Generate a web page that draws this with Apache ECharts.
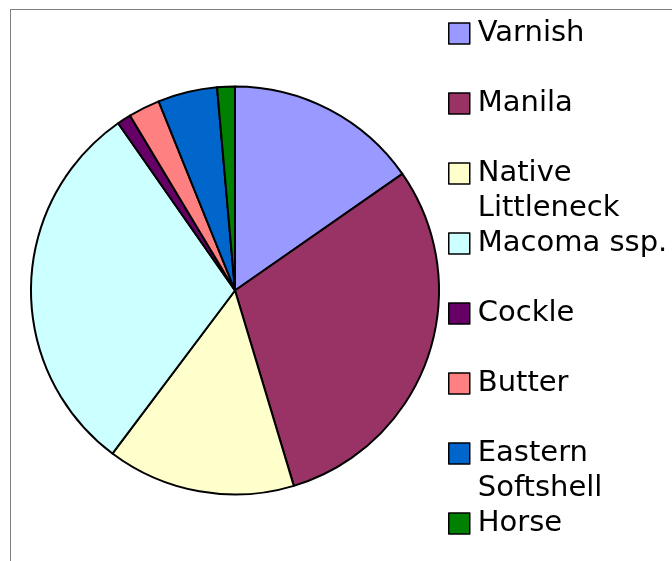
<!DOCTYPE html>
<html>
<head>
<meta charset="UTF-8">
<title>index.html</title>
<style type="text/css">
html, body { margin: 0; padding: 0; background: #fff; }
#main { width: 672px; height: 561px; }
#frame {
  position: absolute; left: 10px; top: 9px; width: 662px; height: 552px;
  border-left: 1px solid #808080; border-top: 1px solid #808080;
  pointer-events: none;
}
</style>
</head>
<body>
  <div id="main"></div>
  <div id="frame"></div>
</body>
<script type="text/javascript" src="https://cdn.jsdelivr.net/npm/echarts@6/dist/echarts.min.js"></script>
<script>
  // clam species, share of the pie (in %)
  var names = [ 'Varnish', 'Manila', 'Native\nLittleneck', 'Macoma ssp.', 'Cockle', 'Butter', 'Eastern\nSoftshell', 'Horse' ];
  var values = [ 15.3, 30.0, 14.9, 30.0, 1.1, 2.5, 4.7, 1.4 ];
  var colors = [ '#9999FF', '#993366', '#FFFFCC', '#CCFFFF', '#660066', '#FF8080', '#0066CC', '#008000' ];

  var myChart = echarts.init(document.getElementById('main'));

  // one legend per item so every entry sits on a 70px slot
  var legends = names.map(function(n, i) {
    var twoLines = n.indexOf('\n') >= 0;
    return {
      orient : 'vertical',
      left : 448,
      top : 16 + 70 * i - (twoLines ? 35 : 0),
      padding : 0,
      itemWidth : 21,
      itemHeight : 21,
      icon : 'rect',
      selectedMode : false,
      data : [ n ],
      // blank first line keeps the first word level with the swatch
      formatter : function(name) {
        return name.indexOf('\n') >= 0 ? ' \n' + name : name;
      },
      itemStyle : { borderColor : '#000', borderWidth : 1.5 },
      textStyle : {
        fontFamily : 'DejaVu Sans',
        fontSize : 29,
        color : '#000',
        lineHeight : 35,
        padding : [ 0, 0, 0, 3 ]
      }
    };
  });

  var option = {
    animation : false,
    color : colors,
    legend : legends,
    series : [ {
      type : 'pie',
      center : [ 235, 290.5 ],
      radius : 204,
      startAngle : 90,
      clockwise : true,
      label : { show : false },
      labelLine : { show : false },
      emphasis : { disabled : true },
      itemStyle : { borderColor : '#000', borderWidth : 2 },
      data : names.map(function(n, i) {
        return { name : n, value : values[i] };
      })
    } ]
  };
  myChart.setOption(option);
</script>
</html>
